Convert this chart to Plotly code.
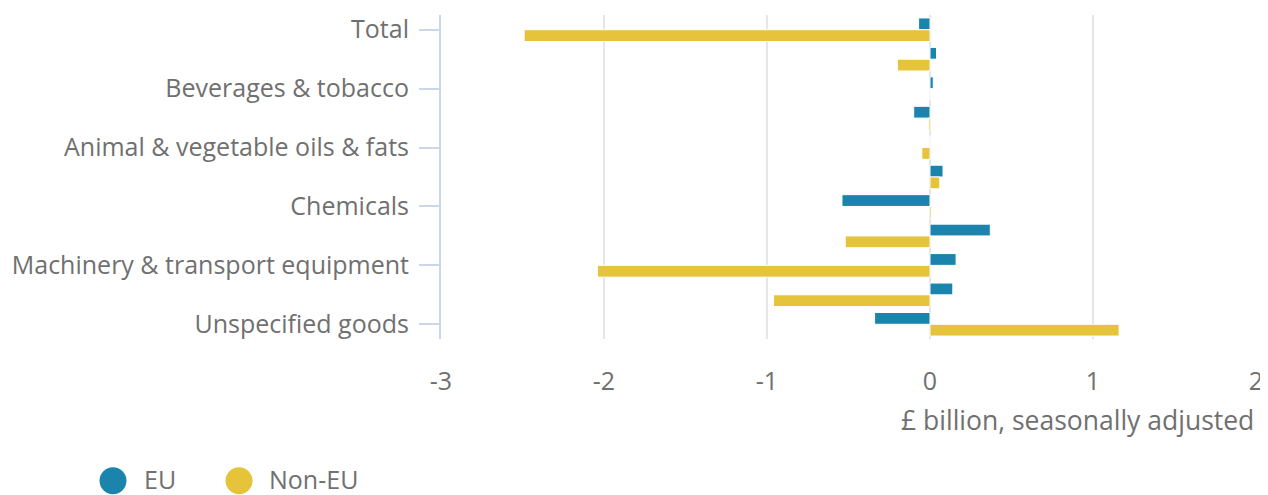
import plotly.graph_objects as go

categories = [
    "Total",
    "Food & live animals",
    "Beverages & tobacco",
    "Crude materials",
    "Animal & vegetable oils & fats",
    "Fuels",
    "Chemicals",
    "Material manufactures",
    "Machinery & transport equipment",
    "Miscellaneous manufactures",
    "Unspecified goods",
]
eu_values = [-0.07, 0.04, 0.02, -0.10, 0.0, 0.08, -0.54, 0.37, 0.16, 0.14, -0.34]
non_eu_values = [-2.49, -0.20, 0.0, -0.01, -0.05, 0.06, 0.01, -0.52, -2.04, -0.96, 1.16]
x_ticks = [-3, -2, -1, 0, 1, 2]
shown_labels = categories[::2]
series_names = ["EU", "Non-EU"]

EU_COLOR = "#1a84ad"
NON_EU_COLOR = "#e5c33a"
TEXT = "#707070"
FONT = "Open Sans"

# page has an 8px body margin; plot area target: x 441..1256, y 12..339
W, H = 1260, 487
PL, PR, PT, PB = 441, 1256, 12, 339
ML, MR, MT, MB = PL - 8, (8 + W) - PR, PT - 8, (8 + H) - PB


def px_x(px):
    return (px - PL) / (PR - PL)


def px_y(py):
    return (PB - py) / (PB - PT)


fig = go.Figure()
colors = [EU_COLOR, NON_EU_COLOR]
for name, vals, col in zip(series_names, [eu_values, non_eu_values], colors):
    fig.add_trace(go.Bar(
        y=categories, x=vals, orientation="h", name=name,
        marker=dict(color=col, line=dict(color="white", width=1)),
        showlegend=False,
    ))

# custom legend with large circles
shapes = []
annotations = []
legend_circle_px = [113, 239]
legend_text_px = [143, 268]
for name, col, cx, tx in zip(series_names, colors, legend_circle_px, legend_text_px):
    shapes.append(dict(
        type="circle", xref="paper", yref="paper",
        xsizemode="pixel", ysizemode="pixel",
        xanchor=px_x(cx), yanchor=px_y(482),
        x0=-13.5, x1=13.5, y0=-13.5, y1=13.5,
        fillcolor=col, line=dict(width=0),
    ))
    annotations.append(dict(
        text=name, xref="paper", yref="paper",
        x=px_x(tx), y=px_y(480), xanchor="left", yanchor="middle",
        showarrow=False, borderpad=0,
        font=dict(size=25, color=TEXT, family=FONT),
    ))

annotations.append(dict(
    text="£ billion, seasonally adjusted", xref="paper", yref="paper",
    x=1, y=px_y(421), xanchor="right", yanchor="middle", showarrow=False,
    font=dict(size=26.5, color=TEXT, family=FONT),
))

fig.update_layout(
    width=W, height=H,
    margin=dict(l=ML, r=MR, t=MT, b=MB),
    paper_bgcolor="white", plot_bgcolor="white",
    font=dict(family=FONT, color=TEXT, size=25),
    barmode="group", bargap=0.2, bargroupgap=0.0,
    showlegend=False,
    xaxis=dict(
        range=[-3, 2], tickvals=x_ticks, ticktext=[str(v) for v in x_ticks],
        showgrid=True, gridcolor="#e6e6e6", gridwidth=2,
        zeroline=True, zerolinecolor="#e6e6e6", zerolinewidth=2,
        showline=False, ticks="", ticklabelstandoff=25,
        tickfont=dict(size=25, color=TEXT),
    ),
    yaxis=dict(
        type="category", autorange="reversed",
        tickmode="array", tickvals=shown_labels, ticktext=shown_labels,
        showline=True, linecolor="#ccd6eb", linewidth=2,
        ticks="outside", ticklen=20, tickwidth=2, tickcolor="#ccd6eb",
        ticklabelstandoff=5,
        showgrid=False, tickfont=dict(size=25, color=TEXT),
    ),
    shapes=shapes,
    annotations=annotations,
)

fig.write_html("out.html")
